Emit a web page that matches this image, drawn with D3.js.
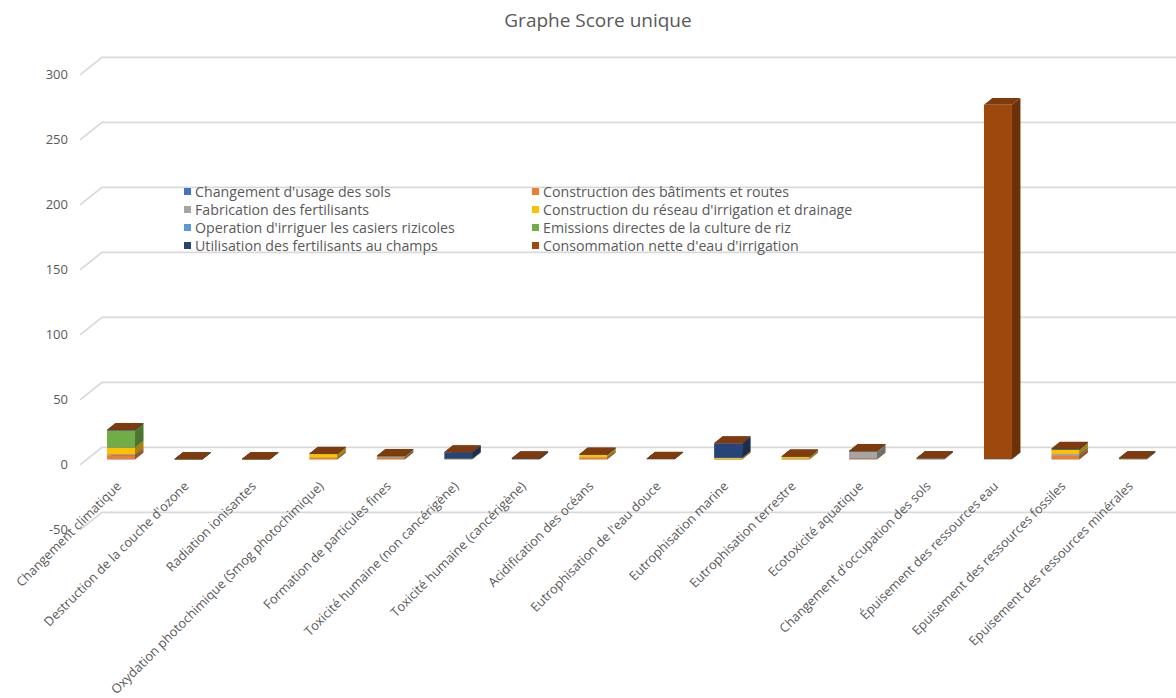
<!DOCTYPE html>
<html><head><meta charset="utf-8">
<script src="https://cdn.jsdelivr.net/npm/d3@7"></script>
<style>body{margin:0;background:#fff;} svg{display:block;font-family:"Open Sans",sans-serif;}</style>
</head><body><svg id="c" width="1176" height="698"></svg>
<script>
const categories = ["Changement climatique","Destruction de la couche d'ozone","Radiation ionisantes","Oxydation photochimique (Smog photochimique)","Formation de particules fines","Toxicité humaine (non cancérigène)","Toxicité humaine (cancérigène)","Acidification des océans","Eutrophisation de l'eau douce","Eutrophisation marine","Eutrophisation terrestre","Ecotoxicité aquatique","Changement d'occupation des sols","Épuisement des ressources eau","Epuisement des ressources fossiles","Epuisement des ressources minérales"];
const seriesNames = ["Changement d'usage des sols","Construction des bâtiments et routes","Fabrication des fertilisants","Construction du réseau d'irrigation et drainage","Operation d'irriguer les casiers rizicoles","Emissions directes de la culture de riz","Utilisation des fertilisants au champs","Consommation nette d'eau d'irrigation"];
const seriesColors = ["#4472C4","#ED7D31","#A5A5A5","#FFC000","#5B9BD5","#70AD47","#264478","#9E480E"];
const usageSols    = [0.1,0,0,0,0,0,0,0,0,0,0,0,0.1,0,0,0];
const batiments    = [3.0,0.05,0.05,1.0,1.2,0.2,0.1,1.0,0.2,0.1,0.3,0.7,0.6,0.3,2.6,0.4];
const fabrication  = [0.8,0.02,0.02,0.2,0.6,0.1,0.05,0.3,0.05,0.1,0.1,5.0,0.05,0.1,1.5,0.3];
const reseau       = [5.0,0.02,0.02,2.8,0.5,0.3,0.1,2.2,0.05,1.0,1.6,0.4,0.1,0.2,3.2,0.1];
const operation    = [0.4,0,0,0.05,0.05,0.05,0,0.05,0,0.05,0.05,0.05,0,0.05,0.3,0];
const emissions    = [12.8,0,0,0.1,0,0,0,0,0,0,0,0,0,0,0,0];
const utilisation  = [0.4,0,0,0.1,0.1,4.8,0.6,0.1,0.1,11.0,0.1,0.1,0,0,0.3,0];
const consommation = [0.2,0.1,0.1,0.2,0.3,0.2,0.1,0.2,0.2,0.2,0.2,0.2,0.2,272,0.4,0.1];
const yTicks = [-50,0,50,100,150,200,250,300];
const seriesValues = [usageSols,batiments,fabrication,reseau,operation,emissions,utilisation,consommation];

const svg = d3.select("#c");
const textColor = "#595959";
const x = d3.scaleBand().domain(categories).range([87.3, 1166.6]).paddingInner(0.585).paddingOuter(0.2925);
const y = d3.scaleLinear().domain([-50, 300]).range([524.3, 69.3]);
const backShift = -12;   // back wall offset
const floorDx = 22, floorDy = 17.6;
const barDx = 8.5, barDy = -6.8;

// gridlines (back wall + left side diagonal)
const grid = svg.append("g");
yTicks.forEach(v => {
  const yb = y(v) + backShift;
  grid.append("path")
    .attr("d", `M80,${yb+floorDy}L${80+floorDx},${yb}L1176,${yb}`)
    .attr("fill","none").attr("stroke","#d9d9d9").attr("stroke-width",1.8);
  grid.append("text").attr("x",68).attr("y",yb+floorDy).attr("dy","0.35em")
    .attr("text-anchor","end").attr("font-size",13).attr("fill",textColor).text(v);
});

// stacked 3D bars
const stack = d3.stack().keys(d3.range(seriesNames.length)).value((d,k)=>seriesValues[k][d]);
const layers = stack(d3.range(categories.length));
const bars = svg.append("g");
categories.forEach((c,i) => {
  const x0 = x(c), w = x.bandwidth(), x1 = x0 + w;
  layers.forEach((layer,k) => {
    const [v0,v1] = layer[i];
    const col = d3.color(seriesColors[k]);
    const y0 = y(v0), y1 = y(v1);
    const g = bars.append("g");
    g.append("rect").attr("x",x0).attr("y",y1).attr("width",w).attr("height",Math.max(0,y0-y1)).attr("fill",col);
    g.append("path").attr("d",`M${x1},${y0}L${x1+barDx},${y0+barDy}L${x1+barDx},${y1+barDy}L${x1},${y1}Z`)
      .attr("fill",col.darker(1.1));
    g.append("path").attr("d",`M${x0},${y1}L${x0+barDx},${y1+barDy}L${x1+barDx},${y1+barDy}L${x1},${y1}Z`)
      .attr("fill",col.darker(0.6));
  });
});

// x labels
svg.append("g").selectAll("text").data(categories).join("text")
  .attr("transform", d => `translate(${x(d)+x.bandwidth()/2+1},487) rotate(-45)`)
  .attr("text-anchor","end").attr("font-size",12.8).attr("fill",textColor).text(d=>d);

// legend
const leg = svg.append("g");
seriesNames.forEach((n,k) => {
  const col = k % 2, row = Math.floor(k/2);
  const lx = col === 0 ? 184 : 532, ly = 192 + row*18;
  leg.append("rect").attr("x",lx).attr("y",ly-4).attr("width",7).attr("height",7).attr("fill",seriesColors[k]);
  leg.append("text").attr("x",lx+11).attr("y",ly).attr("dy","0.35em").attr("font-size",14.2).attr("fill",textColor).text(n);
});

// title
svg.append("text").attr("x",598).attr("y",20).attr("dy","0.35em").attr("text-anchor","middle")
  .attr("font-size",19).attr("fill",textColor).text("Graphe Score unique");
</script></body></html>
